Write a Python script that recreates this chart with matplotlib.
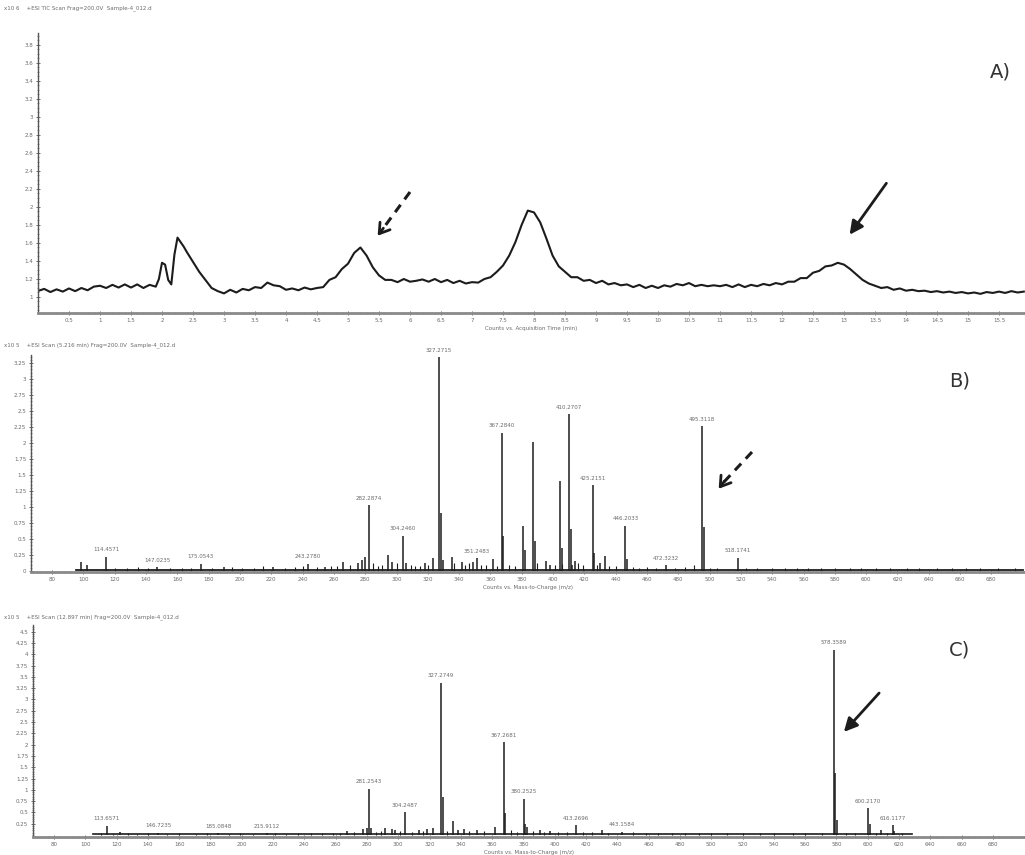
import numpy as np
import matplotlib
matplotlib.use("Agg")
import matplotlib.pyplot as plt
from matplotlib.ticker import MultipleLocator

# ---- panel A: TIC chromatogram ----
a_time = [0.0, 0.1, 0.2, 0.3, 0.4, 0.5, 0.6, 0.7, 0.8, 0.9,
          1.0, 1.1, 1.2, 1.3, 1.4, 1.5, 1.6, 1.7, 1.8, 1.9,
          1.95, 2.0, 2.05, 2.1, 2.15, 2.2, 2.25, 2.3, 2.35, 2.4,
          2.5, 2.6, 2.7, 2.8, 2.9, 3.0, 3.1, 3.2, 3.3, 3.4,
          3.5, 3.6, 3.7, 3.8, 3.9, 4.0, 4.1, 4.2, 4.3, 4.4,
          4.5, 4.6, 4.7, 4.8, 4.9, 5.0, 5.1, 5.2, 5.3, 5.4,
          5.5, 5.6, 5.7, 5.8, 5.9, 6.0, 6.1, 6.2, 6.3, 6.4,
          6.5, 6.6, 6.7, 6.8, 6.9, 7.0, 7.1, 7.2, 7.3, 7.4,
          7.5, 7.6, 7.7, 7.8, 7.9, 8.0, 8.1, 8.2, 8.3, 8.4,
          8.5, 8.6, 8.7, 8.8, 8.9, 9.0, 9.1, 9.2, 9.3, 9.4,
          9.5, 9.6, 9.7, 9.8, 9.9, 10.0, 10.1, 10.2, 10.3, 10.4,
          10.5, 10.6, 10.7, 10.8, 10.9, 11.0, 11.1, 11.2, 11.3, 11.4,
          11.5, 11.6, 11.7, 11.8, 11.9, 12.0, 12.1, 12.2, 12.3, 12.4,
          12.5, 12.6, 12.7, 12.8, 12.9, 13.0, 13.1, 13.2, 13.3, 13.4,
          13.5, 13.6, 13.7, 13.8, 13.9, 14.0, 14.1, 14.2, 14.3, 14.4,
          14.5, 14.6, 14.7, 14.8, 14.9, 15.0, 15.1, 15.2, 15.3, 15.4,
          15.5, 15.6, 15.7, 15.8, 15.9]
a_counts = [1.067, 1.09, 1.055, 1.085, 1.06, 1.095, 1.065, 1.10, 1.075, 1.115,
            1.125, 1.10, 1.135, 1.105, 1.14, 1.105, 1.14, 1.10, 1.135, 1.115,
            1.20, 1.38, 1.36, 1.19, 1.14, 1.47, 1.66, 1.61, 1.56, 1.50,
            1.39, 1.28, 1.19, 1.10, 1.065, 1.04, 1.08, 1.05, 1.09, 1.075,
            1.11, 1.10, 1.16, 1.13, 1.12, 1.08, 1.095, 1.075, 1.105, 1.085,
            1.10, 1.11, 1.19, 1.22, 1.31, 1.37, 1.49, 1.55, 1.46, 1.33,
            1.24, 1.19, 1.19, 1.165, 1.20, 1.17, 1.18, 1.195, 1.17, 1.20,
            1.165, 1.19, 1.155, 1.18, 1.15, 1.165, 1.16, 1.20, 1.22, 1.28,
            1.35, 1.46, 1.61, 1.80, 1.96, 1.94, 1.83, 1.65, 1.46, 1.34,
            1.28, 1.22, 1.22, 1.18, 1.19, 1.155, 1.18, 1.14, 1.155, 1.13,
            1.14, 1.11, 1.135, 1.10, 1.125, 1.10, 1.13, 1.115, 1.145, 1.13,
            1.155, 1.12, 1.135, 1.12, 1.13, 1.12, 1.135, 1.11, 1.14, 1.11,
            1.135, 1.12, 1.145, 1.13, 1.155, 1.14, 1.17, 1.17, 1.21, 1.21,
            1.27, 1.29, 1.34, 1.35, 1.38, 1.36, 1.31, 1.25, 1.19, 1.15,
            1.125, 1.10, 1.11, 1.08, 1.095, 1.07, 1.08, 1.065, 1.07, 1.055,
            1.065, 1.05, 1.06, 1.045, 1.055, 1.04, 1.05, 1.035, 1.055, 1.045,
            1.06, 1.045, 1.065, 1.05, 1.06]
a_yticks = [1.0, 1.2, 1.4, 1.6, 1.8, 2.0, 2.2, 2.4, 2.6, 2.8, 3.0, 3.2, 3.4, 3.6, 3.8]
a_xticks = [0.5, 1, 1.5, 2, 2.5, 3, 3.5, 4, 4.5, 5, 5.5, 6, 6.5, 7, 7.5, 8,
            8.5, 9, 9.5, 10, 10.5, 11, 11.5, 12, 12.5, 13, 13.5, 14, 14.5, 15, 15.5]

# ---- panel B: spectrum at 5.2 min ----
b_mz = [98.3, 102.3, 114.4571, 147.0235, 175.0543, 189.8, 221.1, 243.2780,
        254.4, 265.9, 275.4, 278.0, 279.9, 282.2874, 294.6, 297.2, 304.2460,
        306.1, 318.3, 323.4, 327.2715, 328.27, 330.0, 335.3, 341.7, 349.1,
        351.2483, 361.7, 367.2840, 368.29, 381.1, 382.2, 387.3, 388.3,
        395.4, 398.1, 404.5, 405.5, 410.2707, 411.27, 412.0, 414.1,
        425.2151, 426.22, 430.1, 433.3, 446.2033, 447.2, 472.3232, 495.3118,
        496.31, 518.1741]
b_int = [0.14, 0.09, 0.22, 0.06, 0.11, 0.06, 0.06, 0.11,
         0.06, 0.14, 0.12, 0.17, 0.22, 1.03, 0.25, 0.14, 0.55,
         0.12, 0.13, 0.20, 3.34, 0.90, 0.17, 0.22, 0.14, 0.14,
         0.20, 0.19, 2.16, 0.54, 0.70, 0.32, 2.01, 0.47,
         0.15, 0.10, 1.41, 0.36, 2.45, 0.65, 0.10, 0.16,
         1.34, 0.28, 0.13, 0.24, 0.71, 0.19, 0.09, 2.26,
         0.68, 0.21]
b_labeled = [114.4571, 147.0235, 175.0543, 243.2780, 282.2874, 304.2460,
             327.2715, 351.2483, 367.2840, 410.2707, 425.2151, 446.2033,
             472.3232, 495.3118, 518.1741]
b_grass_mz = [120, 128, 135, 141, 155, 163, 169, 182, 195, 201, 209, 215, 229,
              235, 240, 249, 258, 262, 270, 285, 288, 291, 300, 309, 312, 315,
              320, 337, 344, 346, 354, 357, 364, 372, 376, 390, 401, 406, 416,
              419, 428, 436, 440, 451, 455, 460, 466, 478, 484, 490, 500, 505,
              523, 530, 540, 548, 556, 563, 571, 580, 590, 597, 606, 615, 626,
              634, 645, 655, 664, 673, 684, 695]
b_grass_int = [0.05, 0.04, 0.06, 0.04, 0.05, 0.04, 0.05, 0.05, 0.06, 0.04, 0.05,
               0.07, 0.05, 0.06, 0.07, 0.06, 0.08, 0.07, 0.10, 0.12, 0.08, 0.10,
               0.12, 0.09, 0.07, 0.08, 0.10, 0.12, 0.09, 0.12, 0.09, 0.10, 0.08,
               0.10, 0.08, 0.12, 0.09, 0.11, 0.12, 0.09, 0.10, 0.08, 0.07, 0.06,
               0.05, 0.06, 0.05, 0.05, 0.06, 0.10, 0.05, 0.04, 0.04, 0.05, 0.04,
               0.05, 0.04, 0.04, 0.05, 0.04, 0.05, 0.04, 0.05, 0.04, 0.04, 0.05,
               0.04, 0.04, 0.05, 0.04, 0.04, 0.04]
b_yticks = [0, 0.25, 0.5, 0.75, 1, 1.25, 1.5, 1.75, 2, 2.25, 2.5, 2.75, 3, 3.25]

# ---- panel C: spectrum at 12.9 min ----
c_mz = [113.6571, 122.0, 146.7235, 185.0848, 215.9112, 267.0, 277.7, 279.8,
        281.2543, 282.4, 291.5, 295.8, 298.0, 304.2487, 313.5, 318.6,
        322.0, 327.2749, 328.28, 335.2, 338.0, 342.0, 350.1, 361.8,
        367.2681, 368.27, 380.2525, 381.25, 382.2, 390.5, 397.0, 413.2696,
        430.0, 443.1584, 578.3589, 579.36, 580.36, 600.2170, 601.22, 608.8,
        616.1177, 617.1]
c_int = [0.20, 0.07, 0.05, 0.04, 0.04, 0.09, 0.13, 0.15,
         1.02, 0.15, 0.16, 0.13, 0.11, 0.50, 0.10, 0.13,
         0.15, 3.37, 0.85, 0.32, 0.10, 0.13, 0.10, 0.18,
         2.05, 0.48, 0.80, 0.25, 0.18, 0.10, 0.09, 0.22,
         0.12, 0.07, 4.10, 1.38, 0.33, 0.59, 0.25, 0.12,
         0.22, 0.09]
c_labeled = [113.6571, 146.7235, 185.0848, 215.9112, 281.2543, 304.2487,
             327.2749, 367.2681, 380.2525, 413.2696, 443.1584, 578.3589,
             600.2170, 616.1177]
c_grass_mz = [110, 118, 127, 133, 140, 152, 160, 171, 178, 192, 199, 207, 221,
              228, 236, 244, 251, 258, 263, 272, 286, 289, 301, 309, 316, 331,
              345, 355, 372, 376, 386, 393, 402, 408, 418, 424, 434, 450, 458,
              466, 475, 483, 492, 500, 510, 520, 531, 540, 552, 560, 571, 586,
              592, 605, 612, 622]
c_grass_int = [0.04, 0.03, 0.04, 0.03, 0.04, 0.03, 0.04, 0.03, 0.04, 0.03, 0.04,
               0.03, 0.04, 0.03, 0.04, 0.04, 0.05, 0.04, 0.05, 0.06, 0.07, 0.09,
               0.08, 0.07, 0.09, 0.08, 0.09, 0.08, 0.10, 0.07, 0.08, 0.06, 0.07,
               0.06, 0.07, 0.06, 0.05, 0.06, 0.05, 0.04, 0.05, 0.04, 0.05, 0.04,
               0.05, 0.04, 0.04, 0.05, 0.04, 0.05, 0.04, 0.04, 0.05, 0.04, 0.05,
               0.04]
c_yticks = [0.25, 0.5, 0.75, 1, 1.25, 1.5, 1.75, 2, 2.25, 2.5, 2.75, 3, 3.25,
            3.5, 3.75, 4, 4.25, 4.5]

mz_ticks = list(range(80, 681, 20))

INK = "#1c1c1c"
GREY = "#6a6a6a"
W, H = 1025, 855


def rect(l, t, r, b):
    # pixel box -> figure fraction
    return [l / W, 1 - b / H, (r - l) / W, (b - t) / H]


def style_axes(ax):
    for s in ("top", "right"):
        ax.spines[s].set_visible(False)
    ax.spines["left"].set_color("#555555")
    ax.spines["left"].set_linewidth(1.0)
    ax.spines["bottom"].set_color("#8a8a8a")
    ax.spines["bottom"].set_linewidth(2.0)
    ax.tick_params(axis="both", which="major", labelsize=4, labelcolor=GREY,
                   color="#555555", length=3, width=0.6, direction="inout", pad=2)
    ax.tick_params(axis="both", which="minor", color="#777777", length=1.5,
                   width=0.5, direction="inout")
    ax.set_facecolor("none")


def fmt(v):
    return ("%g" % v)


fig = plt.figure(figsize=(W / 100, H / 100), dpi=100)

# ---------------- A ----------------
axA = fig.add_axes(rect(38, 33, 1025, 313))
axA.plot(a_time, a_counts, color=INK, lw=1.5)
axA.set_xlim(0, (1025 - 38) / 62)
axA.set_ylim(1 + (297 - 313) / 90, 1 + (297 - 33) / 90)
style_axes(axA)
axA.set_yticks(a_yticks)
axA.set_yticklabels([fmt(v) for v in a_yticks])
axA.yaxis.set_minor_locator(MultipleLocator(0.05))
axA.set_xticks(a_xticks)
axA.set_xticklabels([fmt(v) for v in a_xticks])
axA.xaxis.set_minor_locator(MultipleLocator(0.1))
axA.set_xlabel("Counts vs. Acquisition Time (min)", fontsize=4, color=GREY, labelpad=2)

# ---------------- B ----------------
axB = fig.add_axes(rect(31, 355, 1025, 572))
axB.plot([95, 700], [0.015, 0.015], color=INK, lw=1.3)
axB.vlines(b_grass_mz, 0, b_grass_int, color=INK, lw=0.8)
axB.vlines(b_mz, 0, b_int, color=INK, lw=1.1)
for mz, h in zip(b_mz, b_int):
    if mz in b_labeled:
        axB.text(mz, h + 0.07, "%.4f" % mz, ha="center", va="bottom",
                 fontsize=4, color=GREY)
axB.set_xlim(66.5, 701.5)
axB.set_ylim(-0.016, (571 - 355) / 64)
style_axes(axB)
axB.set_yticks(b_yticks)
axB.set_yticklabels([fmt(v) for v in b_yticks])
axB.yaxis.set_minor_locator(MultipleLocator(0.05))
axB.set_xticks(mz_ticks)
axB.set_xticklabels([str(v) for v in mz_ticks])
axB.xaxis.set_minor_locator(MultipleLocator(4))
axB.set_xlabel("Counts vs. Mass-to-Charge (m/z)", fontsize=4, color=GREY, labelpad=2)

# ---------------- C ----------------
axC = fig.add_axes(rect(33, 625, 1025, 837))
axC.plot([105, 628], [0.02, 0.02], color=INK, lw=1.2)
axC.vlines(c_grass_mz, 0, c_grass_int, color=INK, lw=0.8)
axC.vlines(c_mz, 0, c_int, color=INK, lw=1.1)
for mz, h in zip(c_mz, c_int):
    if mz in c_labeled:
        axC.text(mz, h + 0.1, "%.4f" % mz, ha="center", va="bottom",
                 fontsize=4, color=GREY)
axC.set_xlim(66.6, 700.5)
axC.set_ylim(-0.044, (835 - 625) / 45.2)
style_axes(axC)
axC.set_yticks(c_yticks)
axC.set_yticklabels([fmt(v) for v in c_yticks])
axC.yaxis.set_minor_locator(MultipleLocator(0.05))
axC.set_xticks(mz_ticks)
axC.set_xticklabels([str(v) for v in mz_ticks])
axC.xaxis.set_minor_locator(MultipleLocator(4))
axC.set_xlabel("Counts vs. Mass-to-Charge (m/z)", fontsize=4, color=GREY, labelpad=2)

# ---------------- overlay: headers, letters, arrows ----------------
ov = fig.add_axes([0, 0, 1, 1])
ov.set_xlim(0, W)
ov.set_ylim(H, 0)
ov.axis("off")

hdr = dict(fontsize=4, color=GREY, va="center", ha="left")
ov.text(4, 8, "x10 6    +ESI TIC Scan Frag=200.0V  Sample-4_012.d ", **hdr)
ov.text(4, 345, "x10 5    +ESI Scan (5.216 min) Frag=200.0V  Sample-4_012.d ", **hdr)
ov.text(4, 617, "x10 5    +ESI Scan (12.897 min) Frag=200.0V  Sample-4_012.d ", **hdr)

for txt, x, y in [("A)", 1000, 72), ("B)", 960, 381), ("C)", 960, 650)]:
    ov.text(x, y, txt, fontsize=14, color="#333333", ha="center", va="center")

# dashed arrows (open head)
for (x0, y0, x1, y1) in [(410, 192, 376, 238), (752, 452, 717, 491)]:
    ov.plot([x0, x1 + 6], [y0, y1 - 8], color=INK, lw=2.2, ls=(0, (3, 2.2)))
    ov.annotate("", xy=(x1, y1), xytext=(x1 + 9, y1 - 12),
                arrowprops=dict(arrowstyle="->,head_length=0.7,head_width=0.45",
                                color=INK, lw=2.0))
# solid arrows
for (x0, y0, x1, y1) in [(888, 181, 848, 237), (881, 691, 842, 734)]:
    ov.annotate("", xy=(x1, y1), xytext=(x0, y0),
                arrowprops=dict(arrowstyle="-|>,head_length=0.8,head_width=0.4",
                                color=INK, lw=2.0))

fig.savefig("out.png", dpi=100)
